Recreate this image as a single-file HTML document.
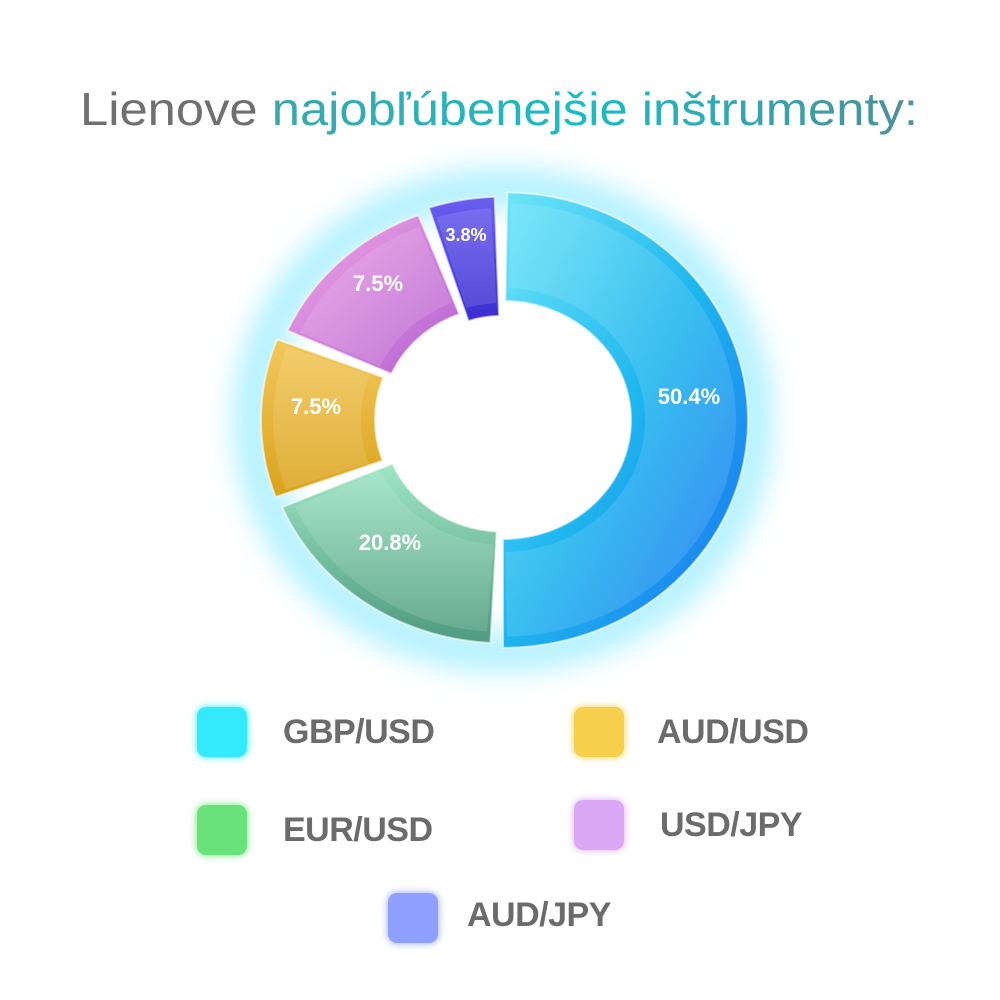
<!DOCTYPE html>
<html><head><meta charset="utf-8"><style>
html,body{margin:0;padding:0;background:#fff;}
body{width:1000px;height:1000px;position:relative;overflow:hidden;font-family:"Liberation Sans",sans-serif;}
.sq{position:absolute;width:50px;height:50px;border-radius:9px;}
.lb{position:absolute;font-weight:bold;font-size:34px;color:#6b6b6b;line-height:40px;letter-spacing:-0.5px}
</style></head><body>
<svg width="1000" height="1000" style="position:absolute;left:0;top:0">
<defs>
<linearGradient id="tg" x1="0" x2="1"><stop offset="0" stop-color="#4f9a9c"/><stop offset="0.6" stop-color="#19bcc6"/><stop offset="1" stop-color="#4f8f96"/></linearGradient>
<filter id="glow" x="-30%" y="-30%" width="160%" height="160%"><feGaussianBlur stdDeviation="14"/></filter>
<linearGradient id="gb" x1="0" y1="0" x2="1" y2="1"><stop offset="0" stop-color="#6ee6f8"/><stop offset="0.5" stop-color="#1eb6ee"/><stop offset="1" stop-color="#1a6ef0"/></linearGradient>
<linearGradient id="gg" x1="0" y1="0" x2="0" y2="1"><stop offset="0" stop-color="#9fe6c4"/><stop offset="1" stop-color="#4e9a80"/></linearGradient>
<linearGradient id="gy" x1="0" y1="0" x2="0" y2="1"><stop offset="0" stop-color="#f3c85a"/><stop offset="1" stop-color="#d9a21a"/></linearGradient>
<linearGradient id="gp" x1="0" y1="0" x2="1" y2="1"><stop offset="0" stop-color="#f0a8e6"/><stop offset="1" stop-color="#b460d0"/></linearGradient>
<linearGradient id="gv" x1="0" y1="0" x2="0" y2="1"><stop offset="0" stop-color="#6a5ef0"/><stop offset="1" stop-color="#3a2ed0"/></linearGradient>
</defs>
<text x="80" y="125" font-size="46" textLength="838" lengthAdjust="spacingAndGlyphs" fill="url(#tg)"><tspan fill="#707070">Lienove </tspan>najobľúbenejšie inštrumenty:</text>
<ellipse cx="503" cy="420" rx="250" ry="232" fill="none" stroke="#7fe8ff" stroke-width="40" opacity="0.6" filter="url(#glow)"/>
<g id="donut"></g>
<g font-weight="bold" fill="#fff" font-size="22" text-anchor="middle">
<text x="689" y="404">50.4%</text>
<text x="390" y="550">20.8%</text>
<text x="316" y="414">7.5%</text>
<text x="378" y="291">7.5%</text>
<text x="466" y="241" font-size="18">3.8%</text>
</g>
</svg>
<div class="sq" style="left:197px;top:707px;background:#33eafc;box-shadow:0 0 8px #33eafc"></div>
<div class="lb" style="left:283px;top:712px">GBP/USD</div>
<div class="sq" style="left:574px;top:707px;background:#f6d04c;box-shadow:0 0 8px #f6d04c"></div>
<div class="lb" style="left:657px;top:712px">AUD/USD</div>
<div class="sq" style="left:197px;top:805px;background:#6ae27a;box-shadow:0 0 8px #6ae27a"></div>
<div class="lb" style="left:283px;top:810px">EUR/USD</div>
<div class="sq" style="left:574px;top:800px;background:#dba8f6;box-shadow:0 0 8px #dba8f6"></div>
<div class="lb" style="left:660px;top:805px">USD/JPY</div>
<div class="sq" style="left:388px;top:893px;background:#8fa0ff;box-shadow:0 0 8px #8fa0ff"></div>
<div class="lb" style="left:467px;top:895px">AUD/JPY</div>
<script>
var cx=503,cy=420,sy=0.93;
function P(a,r){var t=(a-90)*Math.PI/180;return [cx+r*Math.cos(t),cy+r*Math.sin(t)*sy];}
function seg(a0,a1,ro,ri){var p1=P(a0,ro),p2=P(a1,ro),p3=P(a1,ri),p4=P(a0,ri);var l=(a1-a0)>180?1:0;
return "M"+p1+" A"+ro+","+ro*sy+" 0 "+l+" 1 "+p2+" L"+p3+" A"+ri+","+ri*sy+" 0 "+l+" 0 "+p4+"Z";}
var s=[[1,180,245,128,"url(#gb)"],[183,247,240,120,"url(#gg)"],[250,291,242,128,"url(#gy)"],[294,339,236,122,"url(#gp)"],[342,358,240,112,"url(#gv)"]];
var h="";s.forEach(function(q){h+='<path d="'+seg(q[0],q[1],q[2],q[3])+'" fill="'+q[4]+'" stroke="rgba(255,255,255,0.6)" stroke-width="2" stroke-linejoin="round"/>';
h+='<path d="'+seg(q[0]+1,q[1]-1,q[2]-12,q[3]+14)+'" fill="rgba(255,255,255,0.12)"/>';});
document.getElementById("donut").innerHTML=h;
</script>
</body></html>
